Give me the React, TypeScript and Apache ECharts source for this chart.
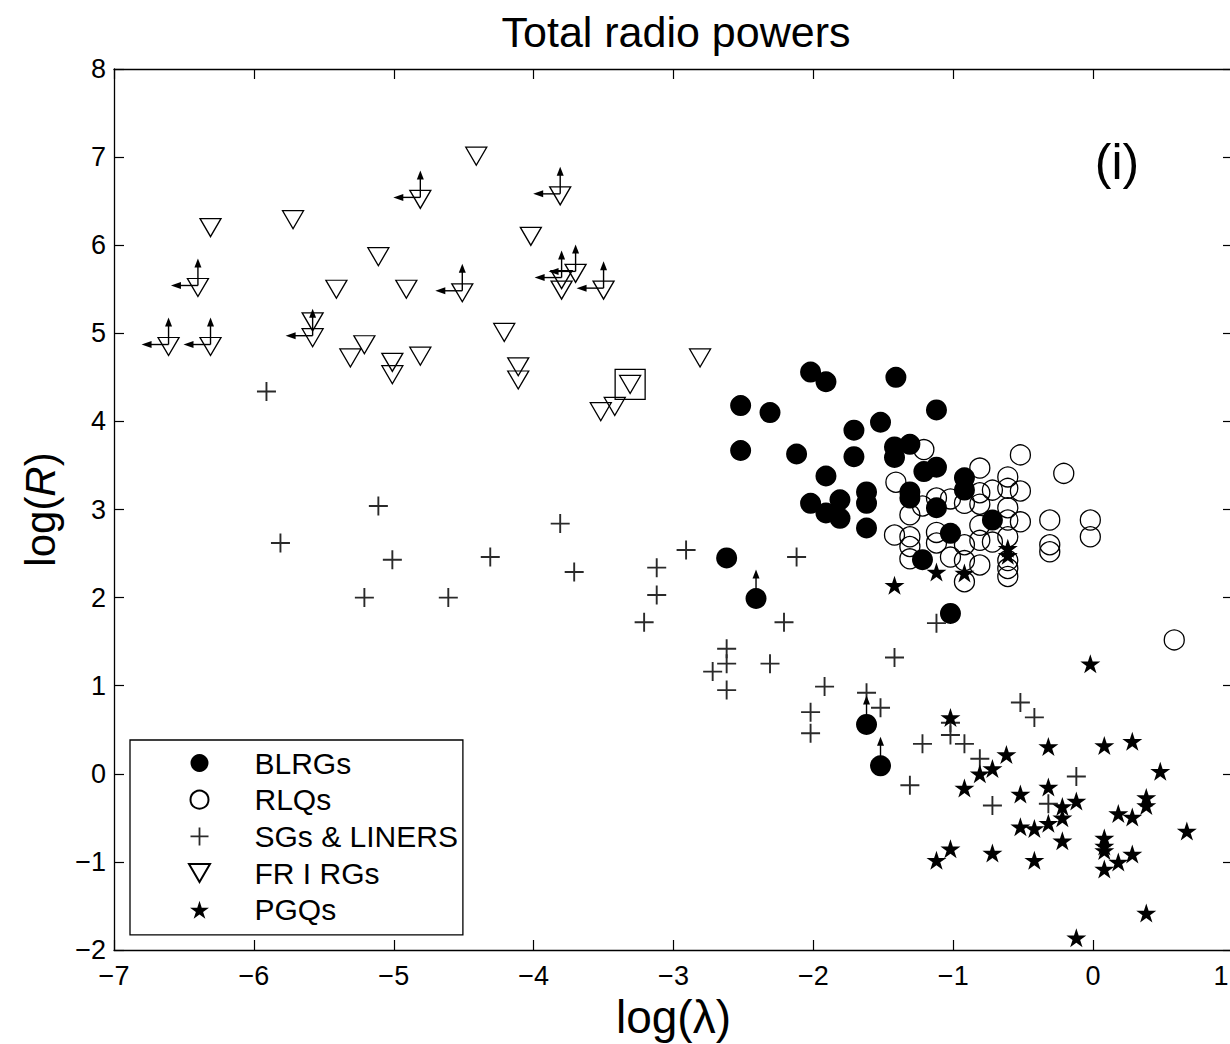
import React, { useEffect, useRef } from "react";
import * as echarts from "echarts";

const seriesNames = ["BLRGs", "RLQs", "SGs & LINERS", "FR I RGs", "PGQs"];
const xTicks = { min: -7, max: 1, interval: 1 };
const yTicks = { min: -2, max: 8, interval: 1 };

const blrg = [
  [-2.02, 4.56], [-1.91, 4.45], [-1.41, 4.5], [-2.52, 4.18], [-2.31, 4.1], [-1.12, 4.13],
  [-1.52, 3.99], [-1.71, 3.9], [-2.52, 3.67], [-2.12, 3.63], [-1.71, 3.6], [-1.42, 3.71],
  [-1.31, 3.74], [-1.42, 3.59], [-1.91, 3.38], [-1.21, 3.43], [-1.12, 3.48], [-1.31, 3.2],
  [-1.31, 3.13], [-1.62, 3.2], [-1.62, 3.07], [-2.02, 3.07], [-1.91, 2.96], [-1.81, 3.11],
  [-1.81, 2.9], [-1.62, 2.79], [-0.92, 3.36], [-0.92, 3.22], [-1.12, 3.02], [-1.02, 2.73],
  [-0.72, 2.88], [-1.22, 2.43], [-2.62, 2.45], [-1.02, 1.82],
];
const blrgLimits = [[-2.41, 1.99], [-1.62, 0.56], [-1.52, 0.09]];

const rlq = [
  [-1.21, 3.68], [-0.52, 3.62], [-0.21, 3.41], [-0.81, 3.47], [-0.61, 3.37], [-1.41, 3.31],
  [-0.61, 3.24], [-0.52, 3.21], [-0.72, 3.22], [-0.81, 3.19], [-1.12, 3.13], [-1.02, 3.12],
  [-0.92, 3.07], [-0.81, 3.06], [-1.22, 3.04], [-1.31, 2.94], [-0.61, 3.02], [-0.52, 2.86],
  [-0.31, 2.88], [-0.02, 2.88], [-0.02, 2.69], [-0.31, 2.6], [-0.31, 2.52], [-0.61, 2.88],
  [-0.81, 2.82], [-1.12, 2.74], [-1.42, 2.71], [-1.31, 2.69], [-1.12, 2.62], [-0.92, 2.6],
  [-0.72, 2.63], [-0.61, 2.69], [-1.31, 2.58], [-1.31, 2.44], [-1.02, 2.46], [-0.92, 2.42],
  [-0.81, 2.37], [-0.61, 2.42], [-0.61, 2.33], [-0.61, 2.24], [-0.92, 2.18], [0.58, 1.52],
  [-0.81, 2.65],
];

const sgs = [
  [-5.91, 4.34], [-5.81, 2.62], [-5.11, 3.04], [-5.01, 2.43], [-5.21, 2.0], [-4.61, 2.0],
  [-4.31, 2.46], [-3.81, 2.84], [-3.71, 2.29], [-3.12, 2.34], [-3.12, 2.03], [-3.21, 1.72],
  [-2.91, 2.54], [-2.12, 2.46], [-2.21, 1.72], [-1.12, 1.71], [-2.62, 1.42], [-2.62, 1.25],
  [-2.72, 1.16], [-2.62, 0.95], [-2.31, 1.25], [-1.92, 0.99], [-2.02, 0.7], [-2.02, 0.46],
  [-1.62, 0.92], [-1.52, 0.75], [-1.42, 1.32], [-1.22, 0.34], [-1.31, -0.13], [-0.92, 0.34],
  [-1.02, 0.44], [-0.81, 0.17], [-0.72, -0.36], [-0.52, 0.81], [-0.42, 0.64], [-0.12, -0.03],
  [-0.32, -0.34], [-1.02, 0.58],
];

const fri = [
  [-6.31, 6.2], [-5.72, 6.29], [-5.58, 5.13], [-5.41, 5.5], [-5.31, 4.72], [-5.21, 4.87],
  [-5.11, 5.87], [-5.01, 4.67], [-5.01, 4.53], [-4.91, 5.5], [-4.81, 4.74], [-4.41, 7.01],
  [-4.21, 5.01], [-4.11, 4.62], [-4.11, 4.47], [-4.02, 6.1], [-3.8, 5.49], [-3.52, 4.11],
  [-3.42, 4.17], [-3.31, 4.42], [-2.81, 4.72],
];
const friLimits = [
  [-6.61, 4.85], [-6.31, 4.85], [-6.4, 5.52], [-5.58, 4.95], [-4.81, 6.52], [-4.51, 5.46],
  [-3.81, 6.56], [-3.8, 5.61], [-3.7, 5.68], [-3.5, 5.49],
];
const boxedSource = [[-3.31, 4.42]];

const pgq = [
  [-0.02, 1.25], [-1.02, 0.64], [-0.32, 0.31], [0.08, 0.32], [0.28, 0.37], [-0.62, 0.22],
  [-0.72, 0.06], [-0.81, 0.0], [-0.92, -0.16], [0.48, 0.03], [-0.52, -0.23], [-0.32, -0.15],
  [-0.12, -0.31], [-0.22, -0.37], [-0.22, -0.5], [-0.52, -0.6], [-0.42, -0.62], [-0.32, -0.56],
  [0.18, -0.45], [0.28, -0.49], [0.38, -0.27], [0.38, -0.36], [0.67, -0.65], [-0.22, -0.76],
  [0.08, -0.73], [0.08, -0.82], [0.08, -0.87], [0.08, -1.08], [0.18, -1.0], [0.28, -0.91],
  [-1.02, -0.85], [-1.12, -0.98], [-0.72, -0.9], [-0.42, -0.98], [0.38, -1.58], [-0.12, -1.86],
  [-1.42, 2.14], [-1.12, 2.29], [-0.92, 2.28], [-0.61, 2.56], [-0.61, 2.48],
];

const FONT = "'Liberation Sans', Arial, Helvetica, sans-serif";
const STAR =
  "path://M50,0 L61.2,34.5 L97.6,34.5 L68.2,55.9 L79.4,90.5 L50,69.1 L20.6,90.5 L31.8,55.9 L2.4,34.5 L38.8,34.5 Z";
const PLUS =
  "path://M9,0 L11,0 L11,9 L20,9 L20,11 L11,11 L11,20 L9,20 L9,11 L0,11 L0,9 L9,9 Z";
const TRI_DOWN = "path://M0,0 L21,0 L10.5,18 Z";

const xLabel = (v: number) => (v === xTicks.max ? "{e|" + v + "}" : String(v).replace("-", "\u2212"));
const yLabel = (v: number) => String(v).replace("-", "\u2212");

function arrowItem(withLeft: boolean) {
  return (params: any, api: any) => {
    const p = api.coord([api.value(0), api.value(1)]);
    const x = p[0];
    const y = p[1] - 2;
    const st = { stroke: "#000", lineWidth: 1.4 };
    const children: any[] = [
      { type: "line", shape: { x1: x, y1: y, x2: x, y2: y - 20 }, style: st },
      { type: "polygon", shape: { points: [[x - 3.5, y - 18], [x + 3.5, y - 18], [x, y - 27]] }, style: { fill: "#000" } },
    ];
    if (withLeft) {
      children.push(
        { type: "line", shape: { x1: x, y1: y, x2: x - 19, y2: y }, style: st },
        { type: "polygon", shape: { points: [[x - 17, y - 3.5], [x - 17, y + 3.5], [x - 27, y]] }, style: { fill: "#000" } }
      );
    }
    return { type: "group", children };
  };
}

export default function App() {
  const ref = useRef<HTMLDivElement>(null);
  useEffect(() => {
    if (!ref.current) return;
    const chart = echarts.init(ref.current, null, { renderer: "svg" });
    const axisLine = { show: true, onZero: false, lineStyle: { color: "#000", width: 1.3 } };
    const axisTick = { show: true, inside: true, length: 10, lineStyle: { color: "#000", width: 1.2 } };
    const labelStyle = { color: "#000", fontSize: 27, fontFamily: FONT };
    chart.setOption({
      animation: false,
      backgroundColor: "#fff",
      title: {
        text: "Total radio powers",
        left: 671,
        top: 5,
        textAlign: "center",
        textStyle: { fontSize: 43, fontWeight: "normal", fontFamily: FONT, color: "#000" },
      },
      grid: {
        left: 114, top: 69, width: 1119, height: 881,
        containLabel: false, outerBoundsMode: "none",
      },
      xAxis: [
        {
          type: "value", ...xTicks, position: "bottom",
          axisLine, axisTick, splitLine: { show: false },
          axisLabel: {
            ...labelStyle, margin: 12, hideOverlap: false, formatter: xLabel,
            rich: { e: { fontSize: 27, fontFamily: FONT, color: "#000", padding: [0, 24, 0, 0] } },
          },
          name: "log(\u03bb)", nameLocation: "middle", nameGap: 42,
          nameTextStyle: { fontSize: 46, fontFamily: FONT, color: "#000" },
        },
        {
          type: "value", ...xTicks, position: "top",
          axisLine, axisTick, splitLine: { show: false }, axisLabel: { show: false },
        },
      ],
      yAxis: [
        {
          type: "value", ...yTicks, position: "left",
          axisLine, axisTick, splitLine: { show: false },
          axisLabel: { ...labelStyle, margin: 8, formatter: yLabel },
          name: "{n|log(}{i|R}{n|)}", nameLocation: "middle", nameGap: 53,
          nameTextStyle: {
            color: "#000",
            rich: {
              n: { fontSize: 42, fontFamily: FONT, color: "#000" },
              i: { fontSize: 42, fontFamily: FONT, fontStyle: "italic", color: "#000" },
            },
          },
        },
        {
          type: "value", ...yTicks, position: "right",
          axisLine, axisTick, splitLine: { show: false }, axisLabel: { show: false },
        },
      ],
      legend: {
        data: seriesNames,
        orient: "vertical",
        left: 130,
        top: 740,
        padding: [8, 5, 10, 58],
        itemWidth: 100,
        itemHeight: 18,
        itemGap: 6.7,
        borderColor: "#000",
        borderWidth: 1.3,
        backgroundColor: "#fff",
        textStyle: { fontSize: 30, fontFamily: FONT, color: "#000", lineHeight: 30 },
      },
      graphic: [
        {
          type: "text", x: 1117, y: 162,
          style: { text: "(i)", fontSize: 50, fontFamily: FONT, fill: "#000", align: "center", verticalAlign: "middle" },
        },
      ],
      series: [
        {
          name: "RLQs", type: "scatter", data: rlq, symbol: "circle", symbolSize: 20,
          itemStyle: { color: "rgba(0,0,0,0)", borderColor: "#000", borderWidth: 1.3, opacity: 1 },
          emphasis: { disabled: true }, z: 2,
        },
        {
          name: "BLRGs", type: "scatter", data: [...blrg, ...blrgLimits], symbol: "circle", symbolSize: 21,
          itemStyle: { color: "#000", opacity: 1 }, emphasis: { disabled: true }, z: 3,
        },
        {
          name: "SGs & LINERS", type: "scatter", data: sgs, symbol: PLUS, symbolSize: 19,
          itemStyle: { color: "#2a2a2a", opacity: 1 }, emphasis: { disabled: true }, z: 4,
        },
        {
          name: "FR I RGs", type: "scatter", data: [...fri, ...friLimits], symbol: TRI_DOWN,
          symbolSize: [21, 18],
          itemStyle: { color: "rgba(0,0,0,0)", borderColor: "#000", borderWidth: 1.3, opacity: 1 },
          emphasis: { disabled: true }, z: 4,
        },
        {
          name: "PGQs", type: "scatter", data: pgq, symbol: STAR, symbolSize: [20, 19],
          itemStyle: { color: "#000", opacity: 1 }, emphasis: { disabled: true }, z: 5,
        },
        {
          name: "boxed", type: "scatter", data: boxedSource, symbol: "rect", symbolSize: 30,
          itemStyle: { color: "rgba(0,0,0,0)", borderColor: "#000", borderWidth: 1.3, opacity: 1 },
          emphasis: { disabled: true }, z: 4,
        },
        {
          name: "friArrows", type: "custom", data: friLimits, renderItem: arrowItem(true),
          encode: { x: 0, y: 1 }, z: 6, silent: true,
        },
        {
          name: "blrgArrows", type: "custom", data: blrgLimits, renderItem: arrowItem(false),
          encode: { x: 0, y: 1 }, z: 6, silent: true,
        },
      ],
    });
    return () => chart.dispose();
  }, []);
  return (
    <div
      ref={ref}
      style={{ position: "absolute", left: 0, top: 0, width: 1230, height: 1044, background: "#fff" }}
    />
  );
}
